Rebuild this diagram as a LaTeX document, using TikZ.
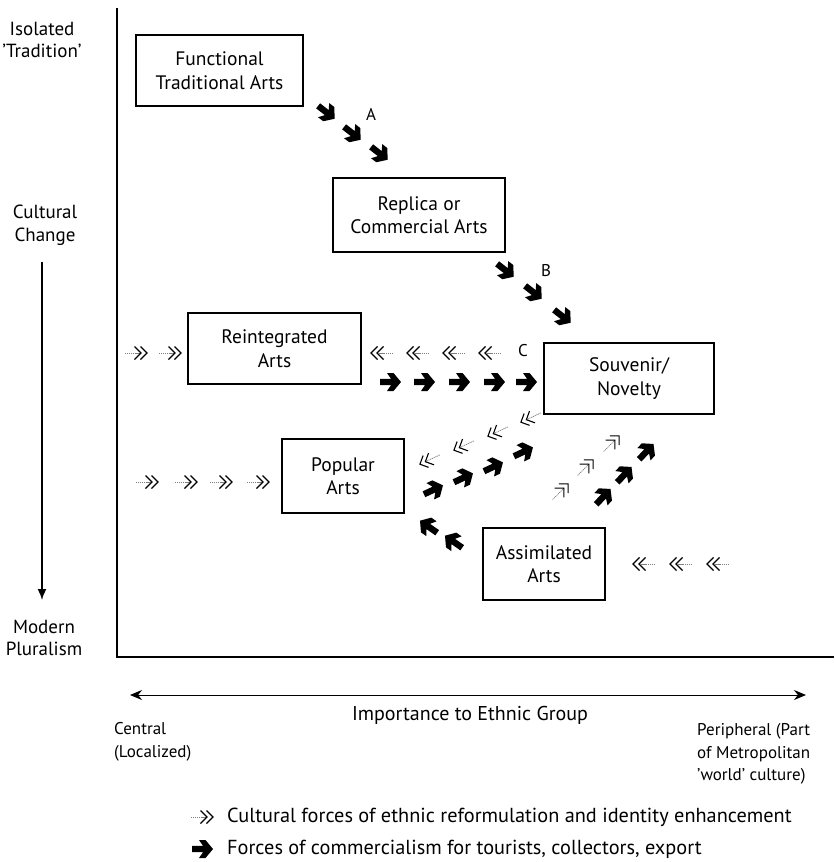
\documentclass[tikz,border=0pt]{standalone}
\usepackage{fontspec}
\setmainfont{PT Sans}
\usetikzlibrary{arrows.meta}
\begin{document}
\begin{tikzpicture}[x=1pt,y=-1pt,
  box/.style={draw, line width=1.4pt, align=center, inner sep=0pt, font=\fontsize{19.5}{23.5}\selectfont},
  lbl/.style={align=center, inner sep=0pt, font=\fontsize{19}{22.5}\selectfont},
  lbll/.style={align=left, inner sep=0pt, font=\fontsize{17}{22.5}\selectfont, anchor=west},
  leg/.style={anchor=west, inner sep=0pt, font=\fontsize{20.3}{22}\selectfont},
  fa/.pic={\fill[black] (-10,-3.2) -- (1,-3.2) -- (-3,-9) -- (3.5,-9) -- (11,0) -- (3.5,9) -- (-3,9) -- (1,3.2) -- (-10,3.2) -- cycle;},
  ca/.pic={\draw[gray, line width=0.7pt, dash pattern=on 1.2pt off 0.7pt] (-12,0) -- (5,0);
           \draw[line width=1.1pt] (-2.5,-6.5) -- (4,0) -- (-2.5,6.5) (3.5,-6.5) -- (10,0) -- (3.5,6.5);}
]
\useasboundingbox (0,0) rectangle (835,862);

% axes
\coordinate (ytop) at (117,8);
\coordinate (origin) at (117,657);
\coordinate (xend) at (834,657);
\draw[line width=2pt] (ytop) -- (origin) -- (xend);

% left labels
\node[lbl] (iso) at (42,40) {Isolated\\'Tradition'};
\node[lbl] (cc) at (45,225) {Cultural\\Change};
\node[lbl] (mp) at (44,638) {Modern\\Pluralism};
\coordinate (vs) at (42,262);
\coordinate (ve) at (42,600);
\draw[line width=1.6pt, -{Latex[length=11pt,width=9pt]}] (vs) -- (ve);

% boxes
\node[box, minimum width=167pt, minimum height=71pt] (fta) at (219.5,70.5) {Functional\\Traditional Arts};
\node[box, minimum width=172pt, minimum height=74pt] (rca) at (419,215) {Replica or\\Commercial Arts};
\node[box, minimum width=173pt, minimum height=71pt] (ria) at (274.5,348.5) {Reintegrated\\Arts};
\node[box, minimum width=170pt, minimum height=71pt] (sn) at (629,378.5) {Souvenir/\\Novelty};
\node[box, minimum width=122pt, minimum height=74pt] (pa) at (343,476) {Popular\\Arts};
\node[box, minimum width=122pt, minimum height=72pt] (aa) at (544,564) {Assimilated\\Arts};

% letters
\node[lbl, font=\fontsize{17}{20}\selectfont] (la) at (371,114) {A};
\node[lbl, font=\fontsize{17}{20}\selectfont] (lb) at (546,271) {B};
\node[lbl, font=\fontsize{17}{20}\selectfont] (lc) at (523,351) {C};

% A arrows
\pic[rotate=-38] at (326,112) {fa};
\pic[rotate=-38] at (352,133) {fa};
\pic[rotate=-38] at (379,153) {fa};
% B arrows
\pic[rotate=-38] at (505,270) {fa};
\pic[rotate=-38] at (533,292) {fa};
\pic[rotate=-38] at (562,316) {fa};

% Reintegrated <-> Souvenir
\foreach \x in {390,424,459,494,526} \pic at (\x,382) {fa};
\foreach \x in {381,417,453,489} \pic[rotate=180] at (\x,353) {ca};
\foreach \x in {137,171} \pic at (\x,353) {ca};

% Popular left
\foreach \x in {148,187,222,259} \pic at (\x,482) {ca};

% Popular <-> Souvenir
\pic[rotate=25] at (433,490) {fa};
\pic[rotate=25] at (463,478) {fa};
\pic[rotate=25] at (493,467) {fa};
\pic[rotate=25] at (523,452) {fa};
\pic[rotate=205] at (429,460) {ca};
\pic[rotate=205] at (463,446) {ca};
\pic[rotate=205] at (497,432) {ca};
\pic[rotate=205] at (530,418) {ca};

% Assimilated -> Popular
\pic[rotate=145] at (429,527) {fa};
\pic[rotate=145] at (454,542) {fa};

% Assimilated -> Souvenir
\pic[rotate=47] at (603,497) {fa};
\pic[rotate=47] at (624,475) {fa};
\pic[rotate=47] at (646,452) {fa};
\pic[rotate=45] at (561,491) {ca};
\pic[rotate=45] at (586,467) {ca};
\pic[rotate=45] at (612,443) {ca};

% right of Assimilated
\foreach \x in {643,680,717} \pic[rotate=180] at (\x,564) {ca};

% bottom axis
\coordinate (bl) at (130,695);
\coordinate (br) at (806,695);
\draw[line width=1pt, {Stealth[length=12pt,width=10pt]}-{Stealth[length=12pt,width=10pt]}] (bl) -- (br);
\node[lbl, font=\fontsize{20}{22}\selectfont] (imp) at (470,715) {Importance to Ethnic Group};
\node[lbll] (cen) at (114,742) {Central\\(Localized)};
\node[lbll] (per) at (697,754) {Peripheral (Part\\of Metropolitan\\'world' culture)};

% legend
\pic at (203,817) {ca};
\node[leg] (l1) at (227,817) {Cultural forces of ethnic reformulation and identity enhancement};
\pic at (202,849) {fa};
\node[leg] (l2) at (227,849) {Forces of commercialism for tourists, collectors, export};
\end{tikzpicture}
\end{document}
